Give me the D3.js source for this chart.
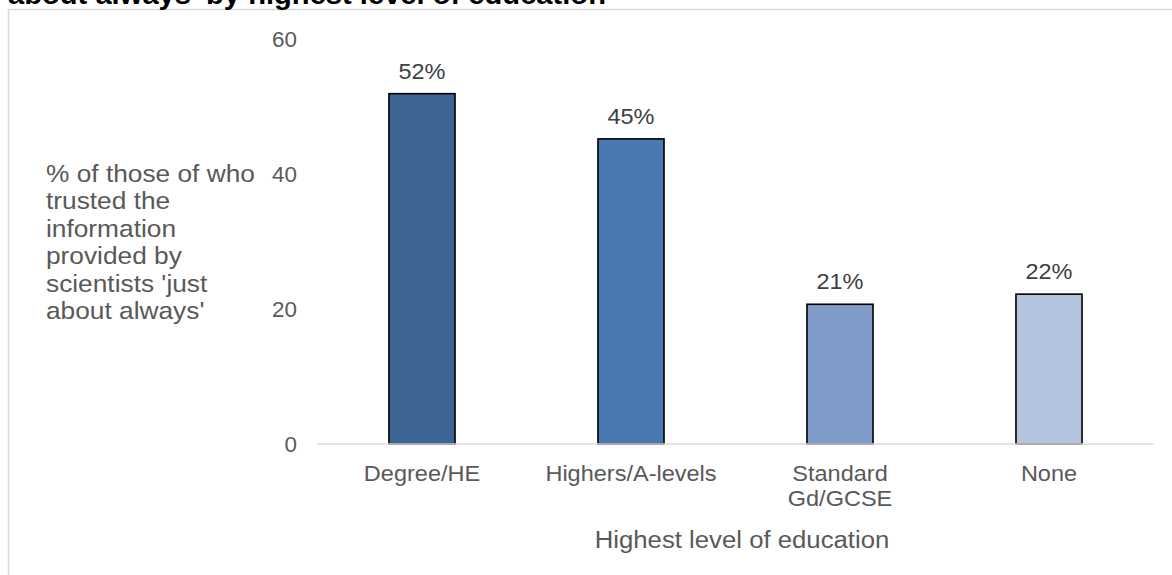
<!DOCTYPE html>
<html>
<head>
<meta charset="utf-8">
<script src="https://cdn.jsdelivr.net/npm/d3@7"></script>
<style>
  html, body { margin: 0; padding: 0; background: #ffffff; }
  svg { display: block; }
  text { font-family: "Liberation Sans", Arial, sans-serif; }
</style>
</head>
<body>
<svg id="chart" width="1172" height="575"></svg>
<script>
// ---- data ----
const categories = ["Degree/HE", "Highers/A-levels", "Standard\nGd/GCSE", "None"];
const values = [51.9, 45.2, 20.7, 22.2];
const barColors = ["#3D6594", "#4A78B0", "#7F9CC8", "#B4C3DE"];
const yTicks = [0, 20, 40, 60];
const titleText = "about always' by highest level of education";
const yTitleLines = ["% of those of who", "trusted the", "information", "provided by", "scientists 'just", "about always'"];
const xTitleText = "Highest level of education";

const SX = 1.06; // horizontal text stretch of reference
const svg = d3.select("#chart");

function place(sel, x, y) {
  sel.attr("x", 0).attr("y", 0).attr("transform", `translate(${x},${y}) scale(${SX},1)`);
  return sel;
}

// frame
svg.append("rect")
  .attr("x", 8.5).attr("y", 9.5).attr("width", 1300).attr("height", 700)
  .attr("fill", "none").attr("stroke", "#d9d9d9").attr("stroke-width", 1.5);

// title (cut at top, as in the reference)
place(svg.append("text").text(titleText), 8, 3.5)
  .attr("font-size", 27.5).attr("font-weight", "bold").attr("fill", "#000");

const x = d3.scaleBand().domain(categories).range([317.5, 1153.5])
  .paddingInner(0.684).paddingOuter(0.342);
const y = d3.scaleLinear().domain([0, 60]).range([444, 39]);

// y axis labels
const yAxis = svg.append("g").attr("transform", "translate(297,0)")
  .call(d3.axisLeft(y).tickValues(yTicks).tickSize(0).tickPadding(0));
yAxis.select(".domain").remove();
yAxis.selectAll("text")
  .attr("font-size", 21.2).attr("fill", "#595959").attr("font-family", "Liberation Sans, Arial, sans-serif")
  .attr("x", 0).attr("dy", "0.35em").attr("transform", `scale(${SX},1)`);

// bars
svg.append("g").selectAll("rect").data(values).join("rect")
  .attr("x", (d, i) => x(categories[i]))
  .attr("y", d => y(d))
  .attr("width", x.bandwidth())
  .attr("height", d => y(0) - y(d))
  .attr("fill", (d, i) => barColors[i])
  .attr("stroke", "#000").attr("stroke-width", 1.6);

// x axis line
const xAxis = svg.append("g").attr("transform", `translate(0,${y(0)})`)
  .call(d3.axisBottom(x).tickSize(0).tickFormat(""));
xAxis.select(".domain").attr("stroke", "#d9d9d9").attr("stroke-width", 1.5)
  .attr("d", `M${x.range()[0]},0H${x.range()[1]}`);

// value labels
const fmt = d3.format(".0f");
svg.append("g").selectAll("text").data(values).join("text")
  .each(function(d, i) {
    place(d3.select(this), x(categories[i]) + x.bandwidth() / 2, y(d) - 15);
  })
  .attr("text-anchor", "middle").attr("font-size", 22.2).attr("fill", "#404040")
  .text(d => fmt(d) + "%");

// category labels
categories.forEach(c => {
  const lines = c.split("\n");
  lines.forEach((ln, j) => {
    place(svg.append("text").text(ln), x(c) + x.bandwidth() / 2, 481 + j * 25)
      .attr("text-anchor", "middle").attr("font-size", 22.2).attr("fill", "#595959");
  });
});

// x axis title
place(svg.append("text").text(xTitleText), 742, 548)
  .attr("text-anchor", "middle").attr("font-size", 24.3).attr("fill", "#595959");

// y axis title
yTitleLines.forEach((ln, j) => {
  place(svg.append("text").text(ln), 46, 182 + j * 27.4)
    .attr("font-size", 24.8).attr("fill", "#595959");
});
</script>
</body>
</html>
